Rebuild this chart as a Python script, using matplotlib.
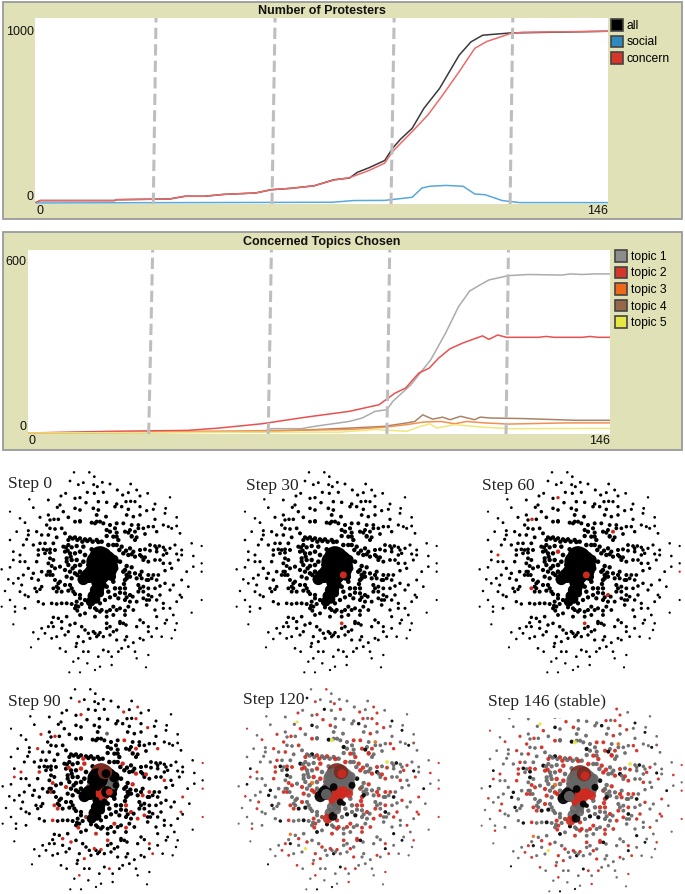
import matplotlib
matplotlib.use("Agg")
import matplotlib.pyplot as plt
from matplotlib.patches import Rectangle, Patch
import numpy as np

FW, FH = 685, 894
plt.rcParams['font.family'] = ['Liberation Sans', 'DejaVu Sans']

# ---- Plot 1 data
all_steps = [0,1,20,20.5,34,38,43,48,56,60,65,71,76,80,82,85,89,91,93,96,99,103,108,111,114,121,146]
all_vals  = [4,14,14,19,23,39,39,50,58,77,85,100,135,145,178,205,247,318,370,434,550,666,859,936,975,988,998]
concern_steps = [0,1,20,20.5,34,38,43,48,56,60,65,71,76,80,85,89,91,96,100,103.5,108,112,115,121,124,146]
concern_vals  = [4,14,14,19,23,39,39,50,58,77,85,100,133,147,189,232,299,415,511,618,763,899,938,984,992,998]
social_steps = [0,75.6,81,89,96,98.5,100.5,104.6,109,112,114.6,119,123.5,146]
social_vals  = [0,4,14,15,33,87,97,102,97,52,48,14,2,2]

# ---- Plot 2 data
t1_steps = [0,58.6,61,68.5,71.8,80.5,83.8,87,90,91.5,96,101,104.7,108,110.8,113.4,115.6,120.5,125.5,134,136,139,142,146]
t1_vals  = [0,3,15,15,23,40,52,75,81,110,167,254,346,439,493,514,531,546,550,548,552,550,552,552]
t2_steps = [0,21.4,40,47.7,58.6,69.7,80.5,88,89.7,92,94.7,98,100.6,103,105.8,109,114,115.6,117.8,120,128,130,132,139,141,143,146]
t2_vals  = [0,6,9,17,32,55,75,98,115,138,156,208,225,260,292,312,337,325,340,332,332,335,332,332,335,332,332]
t3_steps = [0,21,58.6,80.5,89.3,95,99.2,103.6,107,110,114.5,120.5,135,146]
t3_vals  = [0,3,8,12,20,29,38,40,32,40,35,31,35,35]
t4_steps = [0,58.6,80.5,89.3,95,97,99,101.5,104,105.8,108.5,112,113.4,116,124.4,137.5,146]
t4_vals  = [0,4,17,23,35,40,63,48,55,46,58,46,55,52,50,44,44]
t5_steps = [0,58.6,78.4,87,95,98,100.8,102.5,107,113.4,120.5,146]
t5_vals  = [0,3,3,12,6,21,32,17,29,21,15,16]

p1_dash_top = [30.6,61,91.4,121.7]
p1_dash_bot = [29.9,60.2,90.6,121]
p2_dash_top = [31.2,61,90.7,120.5]
p2_dash_bot = [30.2,60.2,90,119.9]

# ---- Network layout
node_xy = [
(222,37),(268,37),(283,50),(210,63),(250,68),(235,74),(307,67),(330,72),(292,80),(392,72),(281,74),(352,90),(410,90),(197,100),(183,108),(262,97),(225,115),(240,113),(283,100),(310,97),(368,105),(385,98),(443,100),(420,108),(88,118),(145,120),(510,112),(465,132),(258,128),(295,125),(320,127),(350,132),(378,125),(392,124),(405,125),(100,143),(180,135),(172,142),(190,155),(225,145),(240,150),(280,145),(295,150),(345,140),(365,140),(385,148),(420,140),(440,152),(497,145),(460,148),(30,155),(145,165),(290,165),(318,170),(380,165),(400,170),(420,165),(495,160),(530,172),
(60,175),(120,172),(150,180),(75,188),(162,178),(175,178),(205,172),(225,185),(240,183),(275,188),(290,185),(310,190),(330,195),(350,190),(370,190),(395,195),(415,195),(465,178),(445,200),(460,200),(505,200),(515,205),(490,195),(140,195),
(50,215),(85,212),(110,215),(125,225),(150,205),(165,207),(185,205),(195,220),(145,225),(170,232),(320,210),(330,215),(345,205),(375,215),(390,210),(405,215),(415,205),(430,205),(395,228),(410,232),(350,230),(355,240),(320,228),(210,232),(225,232),(240,235),(255,238),(270,238),(290,240),(305,245),(435,222),(470,215),(540,220),(530,198),(85,225),(80,238),
(40,275),(70,255),(100,255),(120,250),(135,250),(60,285),(115,270),(115,285),(140,270),(150,278),(135,280),(160,250),(165,270),(190,260),(205,255),(215,262),(230,258),(250,260),(275,268),(325,255),(350,255),(365,260),(390,265),(400,275),(420,270),(435,268),(450,255),(465,258),(478,258),(495,270),(510,265),(525,255),(545,270),(575,250),(605,258),(450,272),(470,275),(490,285),(530,282),(545,285),(580,288),(30,240),(195,275),(210,280),(225,280),(240,275),(255,285),(370,280),(385,285),(420,285),
(40,300),(60,305),(75,305),(110,305),(150,295),(160,300),(145,310),(155,318),(200,295),(215,300),(230,300),(250,305),(205,315),(225,318),(240,315),(265,315),(360,305),(380,318),(395,322),(430,300),(445,305),(465,300),(480,300),(490,310),(510,310),(535,300),(605,310),(605,335),(5,328),(30,322),(85,325),(100,340),(125,335),(145,335),(165,325),(180,320),(195,330),(210,335),(225,340),(240,335),(405,340),(425,335),(445,345),(460,345),(475,345),(495,332),(515,325),(560,335),(580,320),(370,335),(380,345),
(25,358),(55,355),(70,345),(95,355),(115,360),(150,345),(165,360),(175,370),(200,350),(215,355),(240,358),(255,355),(375,360),(390,350),(410,355),(425,355),(445,360),(470,360),(495,370),(520,375),(545,360),(565,380),(65,375),(40,370),(105,385),(125,380),(160,385),(175,385),(195,375),(210,375),(340,365),(320,380),(305,385),(360,385),(375,385),(415,375),(430,380),(445,385),(465,385),(480,378),
(15,393),(60,395),(75,405),(110,395),(120,388),(170,395),(205,392),(220,395),(305,395),(325,395),(345,385),(375,400),(390,405),(415,395),(430,395),(445,405),(455,410),(480,405),(510,390),(540,405),(545,412),(30,420),(85,410),(115,425),(155,430),(170,432),(185,430),(200,430),(215,432),(230,425),(240,415),(255,420),(275,425),(290,410),(355,415),(375,420),(390,425),(410,425),(440,420),(470,420),(490,430),(530,425),(605,420),(5,440),(45,440),
(45,455),(75,445),(130,432),(225,445),(235,440),(270,442),(290,450),(305,450),(320,455),(340,440),(360,445),(385,440),(400,450),(440,435),(465,450),(490,445),(510,445),(575,458),(520,465),(160,472),(175,475),(185,485),(200,470),(240,465),(255,460),(285,470),(320,470),(340,465),(375,465),(420,480),(430,488),(470,470),(500,480),(530,490),(155,488),
(40,493),(125,505),(145,500),(160,500),(185,505),(210,495),(225,490),(245,500),(255,510),(320,490),(330,500),(360,485),(378,495),(410,500),(445,500),(470,505),(495,490),(525,510),(100,517),(135,520),(205,515),(265,520),(285,520),(300,518),(340,515),(350,510),(445,515),(515,535),(115,537),(155,535),(195,525),(235,530),(290,530),(310,530),(330,525),(380,530),(420,535),(455,530),(485,530),
(170,530),(230,550),(250,545),(270,535),(350,540),(375,540),(400,548),(430,540),(93,562),(180,565),(197,575),(228,560),(250,575),(265,575),(310,570),(325,575),(365,565),(385,560),(405,575),(445,585),(410,595),(295,590),(335,590),(355,575),(220,605),(235,595),(262,610),(285,630),(300,620),(335,615),(438,622),(208,637),(240,637),
(205,240),(218,236),(232,240),(247,245),(262,243),(278,245),(295,246),(198,262),(203,272),(212,290),(200,305),(218,325),(232,345),(248,345),(262,330),(270,300),(280,285),(340,255),(358,270),(378,272),(395,283),(405,290),(375,330),(388,338),(380,355),(372,372),(360,398),(380,412),(398,410),(345,405),(330,412),(315,420),(300,430),(245,432),(228,437),(232,452),(285,445),(300,455),(330,450),(350,450),(375,452),(180,365),(170,380),(185,395),(150,335),(158,345),(140,345),(215,385),(225,402),(240,405),(420,345),(440,360),(455,355),(430,415),(448,420),(360,490),(370,490),(320,505),(295,525),(280,515),(240,185),(285,190),(300,185),(395,230),(405,240),(385,218),(350,218),(340,230),(130,268),(150,268),(420,385),(425,290),(435,292),(470,265),(490,262),(500,280),
]

# State per node: G/g grey, R/r/q/p red, d dark red, O/o orange, B/b brown, Y/y yellow, k never coloured.
# Lower case joins earlier: p by step 30, q by step 60, r g d o b y by step 90, upper case by step 120.
node_state = (
"GRGkGrGGRG" "GGrGRkGqGR" "rGGRGGGkRG" "GGRGrGYGRk" "GRGGkGRrGG"
"RGGgGRGkGG" "rGRqGGRGkG" "GGRrGOGGRG" "kGRGGrGGGR" "GRGkGGRGqG"
"GrGGRGGkRG" "RGGGrGBGGk" "GGRGqRrGkG" "GRkGGGrGRG" "rGGRGYGkGR"
"GGGrRGGkGR" "GRGGqGRGkr" "GGRkGGrGGR" "RGOGGkGrGR" "GGrGRGqGkG"
"kGGRGrGRGG" "GrRGGGkGBG" "RGGkGrGGRG" "GGRGGrGkRG" "rGRGkGqGRG"
"GkGRrGGRGG" "GRGGGrkGRG" "GGqRGkGRGr" "RGGGrGGkGR" "GbGRkGGrGR"
"GGrGGRGkGR" "kGRGrGGRGG" "GRGGOGrGkG" "rGGRGGkGRG" "GGRkGrGGRp"
"GRGGrGkGGR" "YGGrRGkGGR" "GRkGGGRrGG" "GrGRGGGkRG" "RGGkrGGGRG"
"GGRGrGkGRG" "GkRGGrGGRG" "rGGGRGBGkG" "GRGrGGkRGG" "GGkGRGGrGR"
"RGrGGkGGRG" "GGRGGrGRkG" "GrGYGRGkGR" "kRGGrGGRGG" "GGRGkGrGRG"
"GRGGkGrRGG" "kGGRGrGGRq" "GRGkGGRGrG" "GGrGRGGkGR" "RGGOGkrGRG"
"GkGGRGrGGR" "rGRGGkGRGG" "GGRrGkGGRG" "RkGGrGRGGG" "GRGGrGRkGG"
)
STATE_JOIN = dict(p=30, q=60, r=90, g=90, d=90, o=90, b=90, y=90,
                  R=120, G=120, O=120, B=120, Y=120, k=999)
GREY, RED = '#666666', '#CF2A20'
STATE_COLOR = dict(p=RED, q=RED, r=RED, R=RED, g=GREY, G=GREY, d='#7A2A20',
                   o='#E8701A', O='#E8701A', b='#8B4A32', B='#8B4A32',
                   y='#E6E640', Y='#E6E640', k='black')

hub_x = [300,315,300,282,265,250,322,332,295,285,278,272,305,340,290,312,268,300,288,300,318,335,290,345,315,285,310,325]
hub_y = [290,305,325,340,347,358,330,318,370,390,408,425,350,300,305,285,352,385,418,400,345,350,330,325,290,370,375,345]
hub_size = [230,280,300,200,110,70,190,110,90,55,55,50,110,60,220,110,60,40,40,35,70,40,30,25,40,25,25,25]
hub_state = "dGGgkkGgBGGRrGGdGGkGRRkkRRkp"

panel_steps = [0,30,60,90,120,146]
panel_labels = ['Step 0','Step 30','Step 60','Step 90','Step 120','Step 146 (stable)']
panel_x = [0,235,478,1,237,480]
panel_y = [460,460,460,677,677,679]
label_x = [8,246,482,8,243,488]
label_y = [488,490,490,706,704,706]

# ---- helpers
fig = plt.figure(figsize=(FW/100, FH/100), dpi=100, facecolor='white')

def ax_px(x, y, w, h):
    return fig.add_axes([x/FW, 1-(y+h)/FH, w/FW, h/FH])

def panel(x, y, w, h):
    fig.add_artist(Rectangle((x/FW, 1-(y+h)/FH), w/FW, h/FH, transform=fig.transFigure,
                             fc='#E0E1B6', ec='#9A9A9A', lw=1.3, zorder=-5))

def plot_axes(x, y, w, h, xlim, ylim, yticks, title, titley):
    ax = ax_px(x, y, w, h)
    ax.set_facecolor('white')
    ax.set_xlim(*xlim); ax.set_ylim(*ylim)
    for s in ax.spines.values():
        s.set_visible(False)
    ax.set_xticks([0,146]); ax.set_yticks(yticks)
    ax.tick_params(length=0, labelsize=9, pad=1, colors='#111111')
    xl = ax.get_xticklabels()
    xl[0].set_ha('left'); xl[1].set_ha('right')
    yl = ax.get_yticklabels()
    yl[0].set_va('bottom')
    fig.text(322/FW, 1-titley/FH, title, ha='center', va='center',
             fontsize=9, fontweight='bold', color='#111111')
    return ax

def dashes(ax, top, bot):
    y0, y1 = ax.get_ylim()
    for t, b in zip(top, bot):
        ax.plot([b, t], [y0, y1], color='#BEBEBE', lw=2.2, ls=(0,(3.7,1.7)), zorder=5)

def legend(ax, colors, labels, anchor_x, anchor_y, spacing):
    handles = [Patch(fc=c, ec='#444444', lw=1.2) for c in colors]
    ax.legend(handles, labels, loc='upper left', bbox_to_anchor=(anchor_x/FW, 1-anchor_y/FH),
              bbox_transform=fig.transFigure, frameon=False, fontsize=8.7,
              handlelength=1.0, handleheight=1.1, handletextpad=0.3,
              labelspacing=spacing, borderpad=0, borderaxespad=0)

# ---- Panel 1
panel(3, 2, 679, 217)
ax1 = plot_axes(35, 18, 573, 186, (-0.3,146), (-6,1075), [0,1000], 'Number of Protesters', 10.5)
ax1.plot(all_steps, all_vals, color='#3A3A3A', lw=1.1, zorder=2)
ax1.plot(social_steps, social_vals, color='#58A8D8', lw=1.1, zorder=3)
ax1.plot(concern_steps, concern_vals, color='#EE6A6A', lw=1.1, zorder=4)
dashes(ax1, p1_dash_top, p1_dash_bot)
legend(ax1, ['black','#2E8BC0','#D8352A'], ['all','social','concern'], 611, 19, 0.3)

# ---- Panel 2
panel(3, 232, 679, 218)
ax2 = plot_axes(28, 250, 582, 184, (-0.1,146), (-3.5,635), [0,600], 'Concerned Topics Chosen', 241.5)
ax2.plot(t1_steps, t1_vals, color='#ABABAB', lw=1.1, zorder=2)
ax2.plot(t2_steps, t2_vals, color='#EA5050', lw=1.1, zorder=3)
ax2.plot(t4_steps, t4_vals, color='#A98468', lw=1.1, zorder=2)
ax2.plot(t3_steps, t3_vals, color='#F39050', lw=1.1, zorder=2)
ax2.plot(t5_steps, t5_vals, color='#EFE878', lw=1.1, zorder=3)
dashes(ax2, p2_dash_top, p2_dash_bot)
legend(ax2, ['#8C8C8C','#D8352A','#EE6A1A','#96684A','#E8E640'],
       ['topic 1','topic 2','topic 3','topic 4','topic 5'], 615, 250, 0.3)

# ---- Network panels
node_x = np.array([p[0] for p in node_xy], float)
node_y = np.array([p[1] for p in node_xy], float)
radius = np.hypot(node_x-300, node_y-320)
node_s = np.clip(13 - radius/30, 2.5, 11)

for k, step in enumerate(panel_steps):
    ax = ax_px(panel_x[k], panel_y[k], 230, 220)
    ax.set_xlim(0,690); ax.set_ylim(660,0); ax.axis('off')
    ax.patch.set_alpha(0)
    states = list(node_state[:len(node_x)])
    cols = [STATE_COLOR[c] if STATE_JOIN[c] <= step else 'black' for c in states]
    alpha = 0.92 if step >= 120 else 1
    ax.scatter(node_x, node_y, s=node_s, c=cols, lw=0, alpha=alpha, clip_on=False)
    hcols = [STATE_COLOR[c] if STATE_JOIN[c] <= step else 'black' for c in hub_state]
    ax.scatter(hub_x, hub_y, s=hub_size, c=hcols, lw=0, alpha=alpha, clip_on=False)
    box = dict(fc='white', ec='none', pad=6) if step == 146 else None
    fig.text(label_x[k]/FW, 1-label_y[k]/FH, panel_labels[k], family='Liberation Serif',
             fontsize=12.5, color='#222222', va='baseline', ha='left', bbox=box)

fig.savefig('out.png', dpi=100)
